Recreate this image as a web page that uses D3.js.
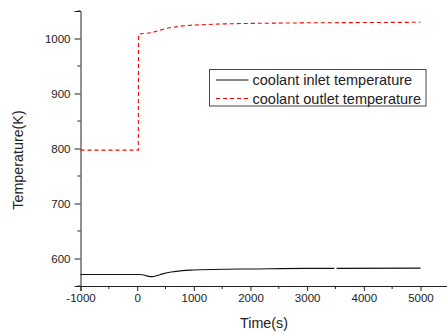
<!DOCTYPE html>
<html><head><meta charset="utf-8">
<script src="https://cdn.jsdelivr.net/npm/d3@7"></script>
<style>body{margin:0;background:#fff}svg{display:block}text{font-family:"Liberation Sans",Arial,sans-serif;fill:#222}</style>
</head><body><svg id="c" width="447" height="333"></svg>
<script>
const seriesNames = ["coolant inlet temperature", "coolant outlet temperature"];
const inletTime = [-1000, 0, 100, 150, 200, 265, 350, 450, 600, 800, 1000, 1500, 2000, 3000, 3480, 3500, 3520, 5000];
const inletTemp = [571, 571, 570.5, 569, 567.5, 567, 569, 572, 575.5, 578, 579, 580.5, 581, 582, 582, NaN, 582, 582.5];
const outletTime = [-1000, 0, 20, 25, 100, 200, 300, 400, 500, 600, 800, 1000, 1500, 2000, 3000, 4000, 5000];
const outletTemp = [797, 797, 797, 1008, 1009, 1010, 1012, 1015, 1018, 1020, 1023, 1024.5, 1026.5, 1027.5, 1028.5, 1029, 1029.5];
const xTicks = [-1000, 0, 1000, 2000, 3000, 4000, 5000];
const yTicks = [600, 700, 800, 900, 1000];
const xTitle = "Time(s)", yTitle = "Temperature(K)";

const svg = d3.select("#c");
const x = d3.scaleLinear().domain([-1000, 5500]).range([80.5, 448.8]);
const y = d3.scaleLinear().domain([550, 1050]).range([286, 11]);
const fmt = d => String(d);

// minor ticks
const xMinor = d3.range(-500, 5501, 1000);
const yMinor = d3.range(550, 1051, 100);
const gx = svg.append("g").attr("transform", "translate(0,286)");
gx.call(d3.axisBottom(x).tickValues(xTicks).tickSize(5).tickPadding(3).tickFormat(fmt));
gx.selectAll(".minor").data(xMinor).enter().append("line").attr("class","minor")
  .attr("x1", d=>x(d)).attr("x2", d=>x(d)).attr("y1",0).attr("y2",3).attr("stroke","#222");
const gy = svg.append("g").attr("transform", "translate(80.5,0)");
gy.call(d3.axisLeft(y).tickValues(yTicks).tickSize(6).tickPadding(4).tickFormat(fmt));
gy.selectAll(".minor").data(yMinor).enter().append("line").attr("class","minor")
  .attr("x1",0).attr("x2",-3).attr("y1", d=>y(d)).attr("y2", d=>y(d)).attr("stroke","#222");
[gx, gy].forEach(g => {
  g.select(".domain").attr("stroke","#222");
  g.selectAll(".tick line").attr("stroke","#222");
  g.selectAll(".tick text").style("font-size","11.5px").attr("fill","#222");
});

const inlet = inletTime.map((t,i)=>({t, v: inletTemp[i]}));
const outlet = outletTime.map((t,i)=>({t, v: outletTemp[i]}));
const line = d3.line().defined(d=>!isNaN(d.v)).x(d=>x(d.t)).y(d=>y(d.v)).curve(d3.curveMonotoneX);
const lineLin = d3.line().x(d=>x(d.t)).y(d=>y(d.v));
svg.append("path").attr("d", line(inlet)).attr("fill","none").attr("stroke","#111").attr("stroke-width",1.1);
svg.append("path").attr("d", lineLin(outlet)).attr("fill","none").attr("stroke","#f00").attr("stroke-width",1.1).attr("stroke-dasharray","4,3");

// axis titles
svg.append("text").attr("x", 264).attr("y", 328).attr("text-anchor","middle").style("font-size","14.3px").text(xTitle);
svg.append("text").attr("transform","translate(23,160) rotate(-90)").attr("text-anchor","middle").style("font-size","14.3px").text(yTitle);

// legend
const lg = svg.append("g");
lg.append("rect").attr("x",209.5).attr("y",69.5).attr("width",216.5).attr("height",36.5).attr("fill","#fff").attr("stroke","#444").attr("stroke-width",1);
const styles = [{c:"#111", d:null}, {c:"#f00", d:"4,3"}];
seriesNames.forEach((n,i)=>{
  const yy = 80 + i*18.5;
  lg.append("line").attr("x1",216).attr("x2",248.5).attr("y1",yy).attr("y2",yy)
    .attr("stroke",styles[i].c).attr("stroke-width",1.1).attr("stroke-dasharray",styles[i].d);
  lg.append("text").attr("x",252.5).attr("y",yy+5).style("font-size","14.5px").text(n);
});
</script></body></html>
